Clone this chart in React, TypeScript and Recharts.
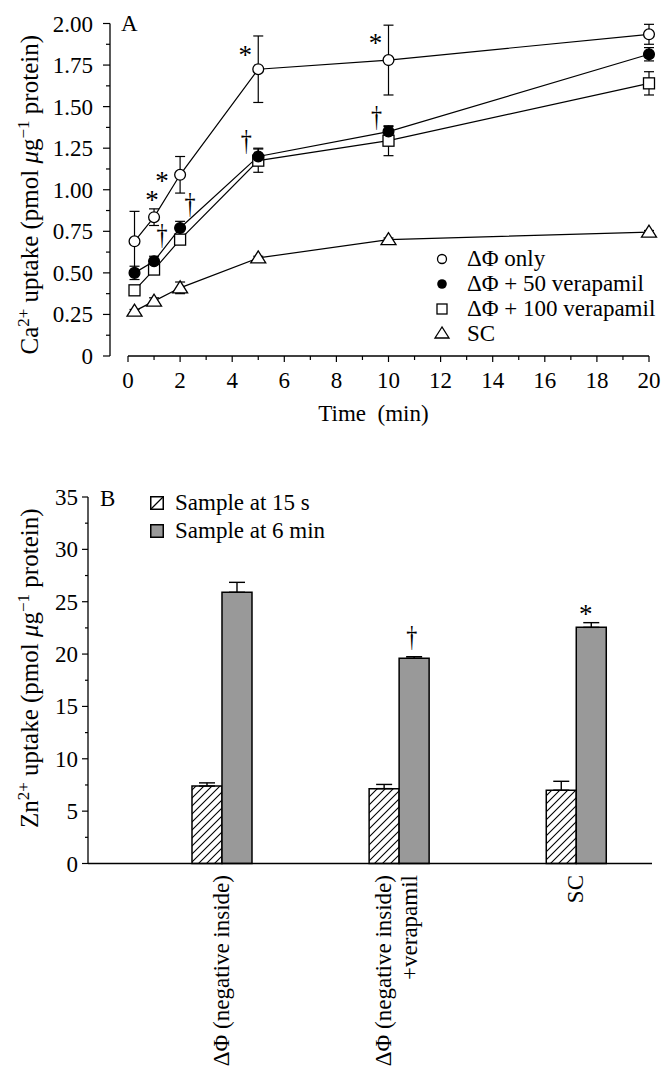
import React from 'react';
import {
  LineChart, Line, XAxis, YAxis, ErrorBar, ReferenceDot, ReferenceLine, Legend,
  BarChart, Bar, Customized,
} from 'recharts';

const FONT = '"Liberation Serif", "Times New Roman", Times, serif';

// ---------- Panel A data ----------
const times = [0.25, 1, 2, 5, 10, 20];
const onlyVals = [0.69, 0.835, 1.09, 1.725, 1.78, 1.935];
const onlyErr = [0.18, 0.05, 0.11, 0.2, 0.21, 0.06];
const v50Vals = [0.5, 0.57, 0.77, 1.2, 1.35, 1.815];
const v50Err = [0.04, 0.03, 0.04, 0.05, 0.03, 0.04];
const v100Vals = [0.395, 0.52, 0.7, 1.175, 1.295, 1.64];
const v100Err = [0.02, 0.02, 0.02, 0.07, 0.09, 0.07];
const scVals = [0.27, 0.33, 0.41, 0.59, 0.7, 0.745];
const scErr = [0.01, 0.02, 0.035, 0.01, 0.01, 0.01];

const seriesNamesA = ['ΔΦ only', 'ΔΦ + 50 verapamil', 'ΔΦ + 100 verapamil', 'SC'];

const xTicksA = [0, 1, 2, 3, 4, 5, 6, 7, 8, 9, 10, 11, 12, 13, 14, 15, 16, 17, 18, 19, 20];
const xLabelsA = [0, 2, 4, 6, 8, 10, 12, 14, 16, 18, 20];
const yTicksA = [0, 0.125, 0.25, 0.375, 0.5, 0.625, 0.75, 0.875, 1, 1.125, 1.25, 1.375, 1.5, 1.625, 1.75, 1.875, 2];
const yLabelsA = [0, 0.25, 0.5, 0.75, 1, 1.25, 1.5, 1.75, 2];

// significance marks: index of time point in series
const starIdxA = [1, 2, 3, 4]; // on ΔΦ only
const daggerIdxA = [1, 2, 3, 4]; // on ΔΦ + 50 verapamil

// ---------- Panel B data ----------
const groupsB = [1, 2, 3];
const catLabelsB = [['ΔΦ (negative inside)'], ['ΔΦ (negative inside)', '+verapamil'], ['SC']];
const earlyVals = [7.4, 7.15, 7.0];
const earlyErr = [0.3, 0.4, 0.85];
const lateVals = [25.9, 19.6, 22.55];
const lateErr = [0.95, 0.15, 0.45];
const seriesNamesB = ['Sample at 15 s', 'Sample at 6 min'];
const yTicksB = [0, 2.5, 5, 7.5, 10, 12.5, 15, 17.5, 20, 22.5, 25, 27.5, 30, 32.5, 35];
const yLabelsB = [0, 5, 10, 15, 20, 25, 30, 35];
const daggerGroupB = 2; // on 6 min
const starGroupB = 3; // on 6 min

// ---------- build tables ----------
const dataA = times.map((t, i) => ({
  t,
  only: onlyVals[i], onlyErr: onlyErr[i],
  v50: v50Vals[i], v50Err: v50Err[i],
  v100: v100Vals[i], v100Err: v100Err[i],
  sc: scVals[i], scErr: scErr[i],
}));

const dataB = groupsB.map((g, i) => ({
  g,
  early: earlyVals[i], earlyErr: [0, earlyErr[i]],
  late: lateVals[i], lateErr: [0, lateErr[i]],
}));

// ---------- styling helpers ----------
const FS = 23;
const starOffA = [[-2, -20], [-18, 3], [-13, -17], [-13, -20]];
const daggerOffA = [[8, -26], [10, -24], [-12, -16], [-12, -15]];

const Star = (cx: number, cy: number) => (
  <text x={cx} y={cy + 12} textAnchor="middle" fontSize={27} fontFamily={FONT} fill="#000">*</text>
);
const Dagger = (cx: number, cy: number) => (
  <text x={cx} y={cy + 8} textAnchor="middle" fontSize={26} fontFamily={FONT} fill="#000"
    transform={`translate(${cx}, ${cy}) scale(0.85, 1.15) translate(${-cx}, ${-cy})`}>†</text>
);

const openCircle = (p: any) => (
  <circle key={p.key} cx={p.cx} cy={p.cy} r={5.4} fill="#fff" stroke="#000" strokeWidth={1.3} />
);
const filledCircle = (p: any) => (
  <circle key={p.key} cx={p.cx} cy={p.cy} r={5.4} fill="#000" stroke="#000" strokeWidth={1.3} />
);
const openSquare = (p: any) => (
  <rect key={p.key} x={p.cx - 5.5} y={p.cy - 5.5} width={11} height={11} fill="#fff" stroke="#000" strokeWidth={1.3} />
);
const openTriangle = (p: any) => (
  <polygon key={p.key} points={`${p.cx},${p.cy - 7} ${p.cx - 7.5},${p.cy + 5} ${p.cx + 7.5},${p.cy + 5}`} fill="#fff" stroke="#000" strokeWidth={1.3} />
);

const isIn = (arr: number[], v: number) => arr.some((a) => Math.abs(a - v) < 1e-6);

const XTickA = (p: any) => {
  const { x, y, payload } = p;
  const major = isIn(xLabelsA, payload.value);
  return (
    <g>
      <line x1={x} x2={x} y1={y} y2={y + (major ? 6 : 4)} stroke="#000" strokeWidth={1.2} />
      {major && (
        <text x={x} y={y + 32} textAnchor="middle" fontSize={FS} fontFamily={FONT} fill="#000">{payload.value}</text>
      )}
    </g>
  );
};

const YTickA = (p: any) => {
  const { x, y, payload } = p;
  const v = payload.value;
  const major = isIn(yLabelsA, v);
  return (
    <g>
      <line x1={x - (major ? 7 : 4)} x2={x} y1={y} y2={y} stroke="#000" strokeWidth={1.2} />
      {major && (
        <text x={x - 17} y={y + 8} textAnchor="end" fontSize={FS} fontFamily={FONT} fill="#000">
          {v === 0 ? '0' : v.toFixed(2)}
        </text>
      )}
    </g>
  );
};

const YTickB = (p: any) => {
  const { x, y, payload } = p;
  const v = payload.value;
  const major = isIn(yLabelsB, v);
  return (
    <g>
      <line x1={x - (major ? 6 : 3)} x2={x} y1={y} y2={y} stroke="#000" strokeWidth={1.2} />
      {major && (
        <text x={x - 10} y={y + 8} textAnchor="end" fontSize={FS} fontFamily={FONT} fill="#000">{v}</text>
      )}
    </g>
  );
};

const XTickB = (p: any) => {
  const { x, y, payload } = p;
  const idx = groupsB.indexOf(payload.value);
  const lines = catLabelsB[idx] || [];
  const n = lines.length;
  return (
    <g>
      {lines.map((ln, i) => {
        const bx = x + 7 + (i - (n - 1) / 2) * 26 - (n - 1) * 1.5;
        const by = y + 11.5;
        return (
          <text key={i} x={bx} y={by} transform={`rotate(-90, ${bx}, ${by})`} textAnchor="end"
            fontSize={FS} fontFamily={FONT} fill="#000">{ln}</text>
        );
      })}
    </g>
  );
};

const yTitle = (cx: number, cy: number, el: string) => (
  <text x={cx} y={cy} transform={`rotate(-90, ${cx}, ${cy})`} textAnchor="middle" fontSize={25} fontFamily={FONT} fill="#000">
    <tspan>{el}</tspan>
    <tspan fontSize={17} dy={-9}>2+</tspan>
    <tspan dy={9}> uptake (pmol </tspan>
    <tspan fontStyle="italic">μ</tspan>
    <tspan>g</tspan>
    <tspan fontSize={17} dy={-9}>−1</tspan>
    <tspan dy={9}> protein)</tspan>
  </text>
);

const YLabelA = (p: any) => {
  const vb = p.viewBox || { x: 0, y: 0, width: 0, height: 0 };
  return yTitle(vb.x + 38, vb.y + vb.height / 2 + 5, 'Ca');
};
const YLabelB = (p: any) => {
  const vb = p.viewBox || { x: 0, y: 0, width: 0, height: 0 };
  return yTitle(vb.x + 38, vb.y + vb.height / 2 - 12, 'Zn');
};
const XLabelA = (p: any) => {
  const vb = p.viewBox || { x: 0, y: 0, width: 0, height: 0 };
  return (
    <text x={vb.x + vb.width / 2 - 6} y={vb.y + 64.5} textAnchor="middle" fontSize={FS} fontFamily={FONT} fill="#000" xmlSpace="preserve">
      Time  (min)
    </text>
  );
};

const legendMarkersA = [
  <circle cx={9} cy={9} r={4.5} fill="#fff" stroke="#000" strokeWidth={1.3} />,
  <circle cx={9} cy={9} r={4.8} fill="#000" />,
  <rect x={4} y={4} width={10} height={10} fill="#fff" stroke="#000" strokeWidth={1.3} />,
  <polygon points="9,2 2,13 16,13" fill="#fff" stroke="#000" strokeWidth={1.3} />,
];

const LegendA = () => (
  <div style={{ fontFamily: FONT, fontSize: FS, color: '#000' }}>
    {seriesNamesA.map((n, i) => (
      <div key={n} style={{ display: 'flex', alignItems: 'center', height: 25, lineHeight: '25px', whiteSpace: 'nowrap' }}>
        <svg width={18} height={18} style={{ flex: 'none' }}>{legendMarkersA[i]}</svg>
        <span style={{ marginLeft: 16 }}>{n}</span>
      </div>
    ))}
  </div>
);

const LegendB = () => (
  <div style={{ fontFamily: FONT, fontSize: FS, color: '#000' }}>
    {seriesNamesB.map((n, i) => (
      <div key={n} style={{ display: 'flex', alignItems: 'center', height: 28, lineHeight: '28px', whiteSpace: 'nowrap' }}>
        <svg width={14} height={14} style={{ flex: 'none' }}>
          {i === 0 ? (
            <g>
              <rect x={0.75} y={0.75} width={12.5} height={12.5} fill="#fff" stroke="#000" strokeWidth={1.5} />
              <line x1={1} y1={13} x2={13} y2={1} stroke="#000" strokeWidth={1.3} />
            </g>
          ) : (
            <rect x={0.75} y={0.75} width={12.5} height={12.5} fill="#999" stroke="#000" strokeWidth={1.5} />
          )}
        </svg>
        <span style={{ marginLeft: 11 }}>{n}</span>
      </div>
    ))}
  </div>
);

export default function App() {
  return (
    <div style={{ position: 'absolute', left: 0, top: 0, width: 662, height: 1069, background: '#fff' }}>
      <div style={{ position: 'absolute', left: 0, top: 0 }}>
        <LineChart width={662} height={430} data={dataA} margin={{ top: 23.5, right: 13, bottom: 0, left: 0 }}>
          <XAxis dataKey="t" type="number" domain={[0, 20]} ticks={xTicksA} interval={0}
            axisLine={false} tickLine={false} tickSize={0} tickMargin={0}
            padding={{ left: 18, right: 0 }} height={74} tick={<XTickA />} label={XLabelA} />
          <YAxis type="number" domain={[0, 2]} ticks={yTicksA} interval={0} width={110}
            axisLine={{ stroke: '#000', strokeWidth: 1.3 }} tickLine={false} tickSize={0} tickMargin={0}
            tick={<YTickA />} label={YLabelA} />
          <ReferenceLine segment={[{ x: 0, y: 0 }, { x: 20, y: 0 }]} stroke="#000" strokeWidth={1.3} ifOverflow="visible" />
          <Line type="linear" dataKey="sc" stroke="#000" strokeWidth={1.2} dot={openTriangle} activeDot={false} isAnimationActive={false}>
            <ErrorBar dataKey="scErr" direction="y" width={5} stroke="#000" strokeWidth={1.2} />
          </Line>
          <Line type="linear" dataKey="v100" stroke="#000" strokeWidth={1.2} dot={openSquare} activeDot={false} isAnimationActive={false}>
            <ErrorBar dataKey="v100Err" direction="y" width={5} stroke="#000" strokeWidth={1.2} />
          </Line>
          <Line type="linear" dataKey="v50" stroke="#000" strokeWidth={1.2} dot={filledCircle} activeDot={false} isAnimationActive={false}>
            <ErrorBar dataKey="v50Err" direction="y" width={5} stroke="#000" strokeWidth={1.2} />
          </Line>
          <Line type="linear" dataKey="only" stroke="#000" strokeWidth={1.2} dot={openCircle} activeDot={false} isAnimationActive={false}>
            <ErrorBar dataKey="onlyErr" direction="y" width={5} stroke="#000" strokeWidth={1.2} />
          </Line>
          {starIdxA.map((k, i) => (
            <ReferenceDot key={'s' + i} x={times[k]} y={onlyVals[k]} r={0} ifOverflow="visible"
              shape={(p: any) => Star(p.cx + starOffA[i][0], p.cy + starOffA[i][1])} />
          ))}
          {daggerIdxA.map((k, i) => (
            <ReferenceDot key={'d' + i} x={times[k]} y={v50Vals[k]} r={0} ifOverflow="visible"
              shape={(p: any) => Dagger(p.cx + daggerOffA[i][0], p.cy + daggerOffA[i][1])} />
          ))}
          <Customized component={() => (
            <text x={121} y={31} fontSize={FS} fontFamily={FONT} fill="#000">A</text>
          )} />
          <Legend layout="horizontal" verticalAlign="middle" align="center"
            wrapperStyle={{ position: 'absolute', left: 433, top: 246, width: 229, margin: 0 }}
            content={() => <LegendA />} />
        </LineChart>
      </div>
      <div style={{ position: 'absolute', left: 0, top: 430 }}>
        <BarChart width={662} height={639} data={dataB} margin={{ top: 67, right: 10, bottom: 0, left: 0 }} barGap={0}>
          <defs>
            <pattern id="hatchB" patternUnits="userSpaceOnUse" width={8} height={8}>
              <rect width={8} height={8} fill="#fff" />
              <path d="M-2,2 L2,-2 M0,8 L8,0 M6,10 L10,6" stroke="#000" strokeWidth={1.1} />
            </pattern>
          </defs>
          <XAxis dataKey="g" type="number" domain={[0.246, 3.43]} ticks={groupsB} interval={0}
            allowDataOverflow axisLine={{ stroke: '#000', strokeWidth: 1.3 }} tickLine={false}
            tickSize={0} tickMargin={0} height={205.5} tick={<XTickB />} />
          <YAxis type="number" domain={[0, 35]} ticks={yTicksB} interval={0} width={88}
            axisLine={{ stroke: '#000', strokeWidth: 1.3 }} tickLine={false} tickSize={0} tickMargin={0}
            tick={<YTickB />} label={YLabelB} />
          <Bar dataKey="early" barSize={30} fill="url(#hatchB)" stroke="#000" strokeWidth={1.5} isAnimationActive={false}>
            <ErrorBar dataKey="earlyErr" direction="y" width={8} stroke="#000" strokeWidth={1.4} />
          </Bar>
          <Bar dataKey="late" barSize={30} fill="#999" stroke="#000" strokeWidth={1.5} isAnimationActive={false}>
            <ErrorBar dataKey="lateErr" direction="y" width={8} stroke="#000" strokeWidth={1.4} />
          </Bar>
          <ReferenceDot x={daggerGroupB} y={lateVals[daggerGroupB - 1]} r={0} ifOverflow="visible"
            shape={(p: any) => Dagger(p.cx + 13, p.cy - 21)} />
          <ReferenceDot x={starGroupB} y={lateVals[starGroupB - 1]} r={0} ifOverflow="visible"
            shape={(p: any) => Star(p.cx + 10, p.cy - 16)} />
          <Customized component={() => (
            <text x={100} y={75.5} fontSize={FS} fontFamily={FONT} fill="#000">B</text>
          )} />
          <Legend layout="horizontal" verticalAlign="middle" align="center"
            wrapperStyle={{ position: 'absolute', left: 150, top: 59, width: 260, margin: 0 }}
            content={() => <LegendB />} />
        </BarChart>
      </div>
    </div>
  );
}
